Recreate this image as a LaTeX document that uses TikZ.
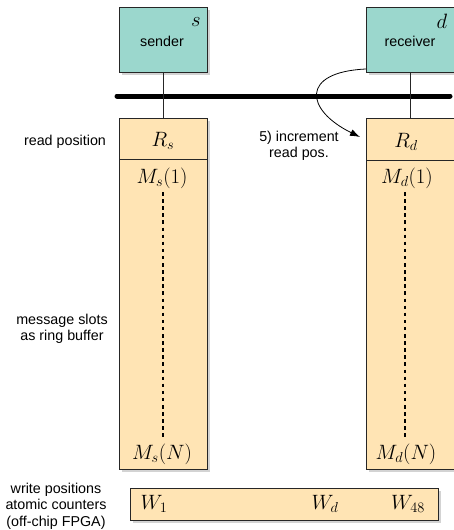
\documentclass[tikz,border=0pt]{standalone}
\usepackage{fontspec}
\setmainfont{Liberation Sans}
\usetikzlibrary{shadows,arrows.meta}
\definecolor{tealbox}{RGB}{155,215,205}
\definecolor{orangebox}{RGB}{255,228,180}
\tikzset{
  procbox/.style={draw=black!85, line width=0.8pt, fill=tealbox, minimum width=88pt, minimum height=65pt, inner sep=0pt,
     drop shadow={opacity=0.35, shadow xshift=2.5pt, shadow yshift=-3pt}},
  membox/.style={draw=black!85, line width=0.8pt, fill=orangebox, inner sep=0pt,
     drop shadow={opacity=0.35, shadow xshift=2.5pt, shadow yshift=-3pt}},
  lbl/.style={font=\fontsize{14.3}{16.5}\selectfont, align=center, inner sep=0pt},
  mth/.style={font=\fontsize{20}{23}\selectfont, inner sep=0pt},
  conn/.style={line width=0.8pt, draw=black!85},
  dots/.style={line width=2.6pt, dash pattern=on 3.5pt off 3.6pt},
  bus/.style={line width=5pt, line cap=round}
}
\begin{document}
\begin{tikzpicture}[x=1pt,y=-1pt]
\useasboundingbox (0,0) rectangle (454,530);
% memory columns
\node[membox, minimum width=88pt, minimum height=351pt] (colS) at (163,293.5) {};
\node[membox, minimum width=88pt, minimum height=351pt] (colD) at (410,293.5) {};
\node[membox, minimum width=308pt, minimum height=32pt] (wbox) at (284,504) {};
% processors
\node[procbox] (snd) at (163,39.5) {};
\node[procbox] (rcv) at (410,39.5) {};
\node[lbl] (sndt) at (162,41) {sender};
\node[lbl] (rcvt) at (410,41) {receiver};
\node[mth] (slab) at (196,22) {$s$};
\node[mth] (dlab) at (442,21) {$d$};
% bus
\coordinate (busL) at (117,96);
\coordinate (busR) at (450,96);
\draw[bus] (busL) -- (busR);
\draw[conn] (snd.south) -- (colS.north);
\draw[conn] (rcv.south) -- (colD.north);
% dividers
\coordinate (dSl) at (119,159);
\coordinate (dSr) at (207,159);
\coordinate (dDl) at (366,160);
\coordinate (dDr) at (454,160);
\draw[conn] (dSl) -- (dSr);
\draw[conn] (dDl) -- (dDr);
% column texts
\node[mth] (Rs) at (163,141) {$R_s$};
\node[mth] (Ms1) at (162,178) {$M_s(1)$};
\node[mth] (MsN) at (162,454) {$M_s(N)$};
\node[mth] (Rd) at (406,142) {$R_d$};
\node[mth] (Md1) at (407,178) {$M_d(1)$};
\node[mth] (MdN) at (406,454) {$M_d(N)$};
\coordinate (sdA) at (163,192);
\coordinate (sdB) at (163,440);
\coordinate (ddA) at (405,192);
\coordinate (ddB) at (405,440);
\draw[dots] (sdA) -- (sdB);
\draw[dots] (ddA) -- (ddB);
% write positions
\node[mth] (W1) at (154,504) {$W_1$};
\node[mth] (Wd) at (325,504) {$W_d$};
\node[mth] (W48) at (408,504) {$W_{48}$};
% curved arrow
\coordinate (arrS) at (366,69);
\coordinate (arrE) at (360,137);
\draw[line width=0.8pt, -{Latex[length=10pt,width=7pt]}] (arrS) .. controls (300,72) and (305,110) .. (arrE);
\node[lbl] (incr) at (299,146) {5) increment\\read pos.};
% left labels
\node[lbl] (rpos) at (65,142) {read position};
\node[lbl] (mslots) at (62,329) {message slots\\as ring buffer};
\node[lbl] (wpos) at (56,506) {write positions\\atomic counters\\(off-chip FPGA)};
\end{tikzpicture}
\end{document}
